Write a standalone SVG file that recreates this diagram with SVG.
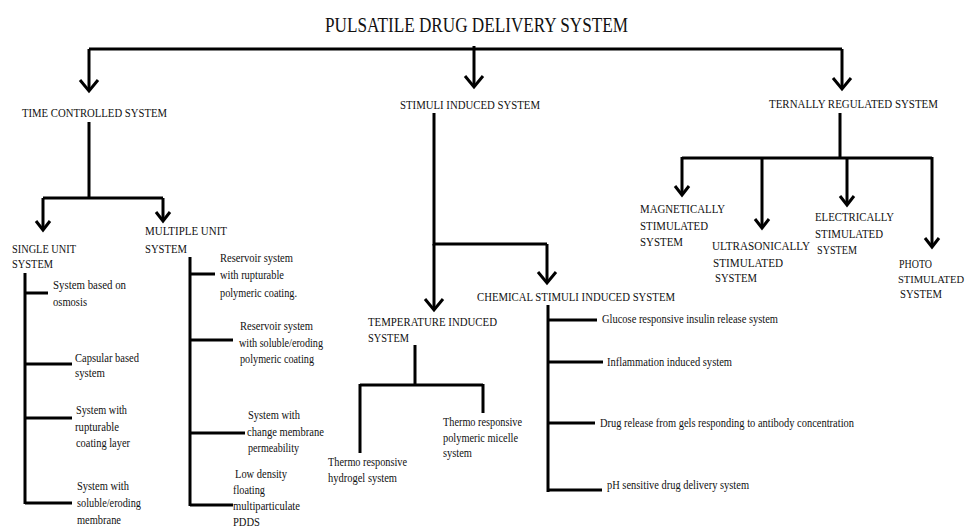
<svg xmlns="http://www.w3.org/2000/svg" width="969" height="528" viewBox="0 0 969 528">
<style>
text{font-family:"Liberation Serif","Times New Roman",serif;fill:#111;}
.t{font-size:22px;}
.c{font-size:13px;}
.s{font-size:13px;}
.n{font-size:11.5px;}
.p{font-size:11px;}
.ln{fill:none;stroke:#000;stroke-width:3;stroke-linecap:butt;stroke-linejoin:miter;}
</style>
<defs>
<marker id="ah" markerUnits="userSpaceOnUse" markerWidth="30" markerHeight="30" refX="0" refY="0" orient="auto" overflow="visible">
<path d="M-11,-9 L0,0 L-11,9" fill="none" stroke="#000" stroke-width="3"/>
</marker>
<marker id="ahs" markerUnits="userSpaceOnUse" markerWidth="30" markerHeight="30" refX="0" refY="0" orient="auto" overflow="visible">
<path d="M-9,-7 L0,0 L-9,7" fill="none" stroke="#000" stroke-width="3"/>
</marker>
</defs>
<rect width="969" height="528" fill="#fff"/>

<g id="connectors">
<path class="ln" d="M89,49 H842"/>
<path class="ln" d="M89,49 V91" marker-end="url(#ah)"/>
<path class="ln" d="M474,46 V87" marker-end="url(#ah)"/>
<path class="ln" d="M842,49 V89" marker-end="url(#ah)"/>

<path class="ln" d="M89,122 V198 M43,198 H163"/>
<path class="ln" d="M43,198 V230" marker-end="url(#ahs)"/>
<path class="ln" d="M163,198 V221" marker-end="url(#ahs)"/>

<path class="ln" d="M25,273 V504 M25,293 H48 M25,364 H72 M25,418 H72 M25,503 H72"/>
<path class="ln" d="M190,257 V506 M190,274 H215 M190,340 H233 M190,433 H245 M190,505 H233"/>

<path class="ln" d="M434,113 V244 H547"/>
<path class="ln" d="M434,244 V310" marker-end="url(#ah)"/>
<path class="ln" d="M547,244 V283" marker-end="url(#ah)"/>

<path class="ln" d="M415,345 V385 M360,385 H483 M360,384 V453 M483,384 V413"/>
<path class="ln" d="M548,305 V492 M548,320 H597 M548,362 H603 M548,423 H595 M548,490 H602"/>

<path class="ln" d="M840,113 V158 M682,158 H932"/>
<path class="ln" d="M682,157 V195" marker-end="url(#ahs)"/>
<path class="ln" d="M762,157 V228" marker-end="url(#ahs)"/>
<path class="ln" d="M847,157 V205" marker-end="url(#ahs)"/>
<path class="ln" d="M932,157 V247" marker-end="url(#ahs)"/>
</g>

<g id="title"><text class="t" x="325" y="32" textLength="303" lengthAdjust="spacingAndGlyphs">PULSATILE DRUG DELIVERY SYSTEM</text></g>

<g id="time-controlled"><text class="c" x="22" y="117" textLength="145" lengthAdjust="spacingAndGlyphs">TIME CONTROLLED SYSTEM</text></g>
<g id="stimuli-induced"><text class="c" x="400" y="109" textLength="140" lengthAdjust="spacingAndGlyphs">STIMULI INDUCED SYSTEM</text></g>
<g id="ternally-regulated"><text class="c" x="769" y="108" textLength="169" lengthAdjust="spacingAndGlyphs">TERNALLY REGULATED SYSTEM</text></g>

<g id="single-unit">
<text class="c" x="12" y="253" textLength="64" lengthAdjust="spacingAndGlyphs">SINGLE UNIT</text>
<text class="c" x="12" y="268" textLength="41" lengthAdjust="spacingAndGlyphs">SYSTEM</text>
</g>
<g id="multiple-unit">
<text class="c" x="145" y="235" textLength="82" lengthAdjust="spacingAndGlyphs">MULTIPLE UNIT</text>
<text class="c" x="145" y="253" textLength="42" lengthAdjust="spacingAndGlyphs">SYSTEM</text>
</g>

<g id="osmosis">
<text class="s" x="53" y="289" textLength="73" lengthAdjust="spacingAndGlyphs">System based on</text>
<text class="s" x="53" y="306" textLength="34" lengthAdjust="spacingAndGlyphs">osmosis</text>
</g>
<g id="capsular">
<text class="s" x="75" y="362" textLength="64" lengthAdjust="spacingAndGlyphs">Capsular based</text>
<text class="s" x="75" y="377" textLength="30" lengthAdjust="spacingAndGlyphs">system</text>
</g>
<g id="rupturable-layer">
<text class="s" x="76" y="414" textLength="51" lengthAdjust="spacingAndGlyphs">System with</text>
<text class="s" x="75" y="431" textLength="44" lengthAdjust="spacingAndGlyphs">rupturable</text>
<text class="s" x="76" y="447" textLength="54" lengthAdjust="spacingAndGlyphs">coating layer</text>
</g>
<g id="eroding-membrane">
<text class="s" x="77" y="490" textLength="52" lengthAdjust="spacingAndGlyphs">System with</text>
<text class="s" x="77" y="507" textLength="64" lengthAdjust="spacingAndGlyphs">soluble/eroding</text>
<text class="s" x="77" y="524" textLength="44" lengthAdjust="spacingAndGlyphs">membrane</text>
</g>

<g id="reservoir-rupturable">
<text class="s" x="220" y="262" textLength="73" lengthAdjust="spacingAndGlyphs">Reservoir system</text>
<text class="s" x="220" y="279" textLength="64" lengthAdjust="spacingAndGlyphs">with rupturable</text>
<text class="s" x="220" y="297" textLength="77" lengthAdjust="spacingAndGlyphs">polymeric coating.</text>
</g>
<g id="reservoir-eroding">
<text class="s" x="240" y="330" textLength="73" lengthAdjust="spacingAndGlyphs">Reservoir system</text>
<text class="s" x="239" y="347" textLength="84" lengthAdjust="spacingAndGlyphs">with soluble/eroding</text>
<text class="s" x="240" y="363" textLength="74" lengthAdjust="spacingAndGlyphs">polymeric coating</text>
</g>
<g id="membrane-permeability">
<text class="s" x="248" y="419" textLength="52" lengthAdjust="spacingAndGlyphs">System with</text>
<text class="s" x="247" y="436" textLength="77" lengthAdjust="spacingAndGlyphs">change membrane</text>
<text class="s" x="248" y="452" textLength="51" lengthAdjust="spacingAndGlyphs">permeability</text>
</g>
<g id="low-density">
<text class="s" x="235" y="478" textLength="52" lengthAdjust="spacingAndGlyphs">Low density</text>
<text class="s" x="233" y="494" textLength="32" lengthAdjust="spacingAndGlyphs">floating</text>
<text class="s" x="233" y="510" textLength="67" lengthAdjust="spacingAndGlyphs">multiparticulate</text>
<text class="s" x="233" y="526" textLength="27" lengthAdjust="spacingAndGlyphs">PDDS</text>
</g>

<g id="temperature-induced">
<text class="c" x="368" y="326" textLength="129" lengthAdjust="spacingAndGlyphs">TEMPERATURE INDUCED</text>
<text class="c" x="368" y="342" textLength="41" lengthAdjust="spacingAndGlyphs">SYSTEM</text>
</g>
<g id="chemical-stimuli">
<text class="c" x="477" y="301" textLength="198" lengthAdjust="spacingAndGlyphs">CHEMICAL STIMULI INDUCED SYSTEM</text>
</g>
<g id="micelle">
<text class="s" x="443" y="426" textLength="79" lengthAdjust="spacingAndGlyphs">Thermo responsive</text>
<text class="s" x="443" y="442" textLength="75" lengthAdjust="spacingAndGlyphs">polymeric micelle</text>
<text class="s" x="443" y="457" textLength="29" lengthAdjust="spacingAndGlyphs">system</text>
</g>
<g id="hydrogel">
<text class="s" x="328" y="466" textLength="79" lengthAdjust="spacingAndGlyphs">Thermo responsive</text>
<text class="s" x="328" y="482" textLength="69" lengthAdjust="spacingAndGlyphs">hydrogel system</text>
</g>
<g id="glucose"><text class="s" x="602" y="323" textLength="176" lengthAdjust="spacingAndGlyphs">Glucose responsive insulin release system</text></g>
<g id="inflammation"><text class="s" x="607" y="366" textLength="125" lengthAdjust="spacingAndGlyphs">Inflammation induced system</text></g>
<g id="antibody"><text class="s" x="600" y="427" textLength="254" lengthAdjust="spacingAndGlyphs">Drug release from gels responding to antibody concentration</text></g>
<g id="ph-sensitive"><text class="s" x="607" y="489" textLength="142" lengthAdjust="spacingAndGlyphs">pH sensitive drug delivery system</text></g>

<g id="magnetically">
<text class="c" x="640" y="213" textLength="85" lengthAdjust="spacingAndGlyphs">MAGNETICALLY</text>
<text class="c" x="640" y="230" textLength="68" lengthAdjust="spacingAndGlyphs">STIMULATED</text>
<text class="c" x="640" y="246" textLength="43" lengthAdjust="spacingAndGlyphs">SYSTEM</text>
</g>
<g id="ultrasonically">
<text class="n" x="712" y="250" textLength="98" lengthAdjust="spacingAndGlyphs">ULTRASONICALLY</text>
<text class="c" x="713" y="267" textLength="70" lengthAdjust="spacingAndGlyphs">STIMULATED</text>
<text class="c" x="715" y="282" textLength="42" lengthAdjust="spacingAndGlyphs">SYSTEM</text>
</g>
<g id="electrically">
<text class="c" x="815" y="221" textLength="79" lengthAdjust="spacingAndGlyphs">ELECTRICALLY</text>
<text class="c" x="815" y="238" textLength="68" lengthAdjust="spacingAndGlyphs">STIMULATED</text>
<text class="c" x="817" y="254" textLength="40" lengthAdjust="spacingAndGlyphs">SYSTEM</text>
</g>
<g id="photo">
<text class="c" x="899" y="268" textLength="33" lengthAdjust="spacingAndGlyphs">PHOTO</text>
<text class="p" x="898" y="283" textLength="66" lengthAdjust="spacingAndGlyphs">STIMULATED</text>
<text class="c" x="900" y="298" textLength="42" lengthAdjust="spacingAndGlyphs">SYSTEM</text>
</g>
</svg>
